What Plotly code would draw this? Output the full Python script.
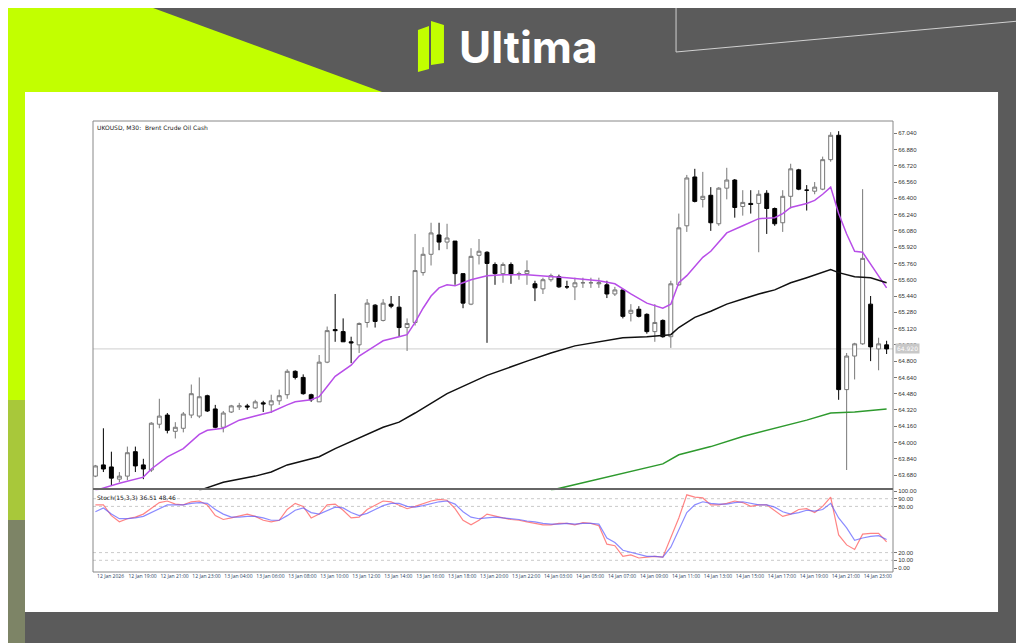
import plotly.graph_objects as go

# --- data (UKOUSD M30) ---
opens = [63.67,63.78,63.76,63.64,63.67,63.91,63.78,63.73,64.18,64.27,
         64.11,64.14,64.27,64.26,64.46,64.33,64.15,64.30,64.35,64.36,
         64.34,64.39,64.37,64.41,64.47,64.70,64.64,64.47,64.40,64.79,
         65.11,65.09,64.99,64.96,65.18,65.35,65.20,65.36,65.33,65.13,
         65.18,65.67,65.85,66.04,65.97,65.98,65.66,65.36,65.84,65.87,
         65.75,65.66,65.75,65.65,65.66,65.56,65.51,65.60,65.63,65.53,
         65.53,65.57,65.57,65.56,65.55,65.46,65.50,65.27,65.31,65.26,
         65.09,65.20,65.04,65.55,66.13,66.61,66.39,66.43,66.15,66.50,
         66.58,66.32,66.35,66.35,66.45,66.30,66.16,66.42,66.68,66.48,
         66.47,66.49,66.78,67.02,64.52,64.85,64.97,65.36,64.92,64.96]
highs = [63.78,64.14,63.91,63.71,63.96,63.96,63.84,64.20,64.43,64.29,
         64.20,64.30,64.57,64.64,64.47,64.37,64.31,64.37,64.39,64.38,
         64.42,64.41,64.47,64.52,64.72,64.71,64.67,64.48,64.86,65.14,
         65.46,65.22,65.04,65.18,65.41,65.36,65.41,65.44,65.44,65.22,
         66.05,65.92,66.16,66.16,66.15,65.98,65.66,65.91,66.00,65.88,
         65.77,65.77,65.77,65.68,65.79,65.59,65.62,65.66,65.65,65.59,
         65.62,65.62,65.62,65.62,65.59,65.53,65.50,65.36,65.34,65.27,
         65.36,65.21,65.59,66.25,66.63,66.69,66.66,66.51,66.51,66.70,
         66.59,66.48,66.48,66.48,66.48,66.31,66.48,66.74,66.69,66.53,
         66.56,66.81,67.05,67.06,64.88,64.98,66.49,65.44,65.03,65.00]
lows = [63.66,63.71,63.58,63.61,63.63,63.71,63.64,63.71,64.14,64.09,
        64.04,64.10,64.24,64.24,64.30,64.14,64.10,64.29,64.32,64.32,
        64.33,64.30,64.29,64.37,64.43,64.62,64.47,64.40,64.40,64.78,
        64.99,64.99,64.78,64.88,65.13,65.13,65.19,65.32,65.04,64.90,
        65.15,65.64,65.74,65.89,65.90,65.55,65.32,65.35,65.75,64.98,
        65.55,65.57,65.56,65.60,65.55,65.39,65.46,65.58,65.52,65.51,
        65.40,65.52,65.52,65.52,65.42,65.44,65.22,65.19,65.23,65.07,
        64.99,65.03,64.93,65.54,66.07,66.36,66.31,66.08,66.13,66.39,
        66.21,66.23,66.25,65.87,66.05,66.13,66.07,66.30,66.48,66.28,
        66.44,66.48,66.76,64.42,63.73,64.62,64.96,64.80,64.71,64.87]
closes = [63.77,63.74,63.65,63.67,63.90,63.77,63.74,64.19,64.26,64.12,
          64.15,64.28,64.48,64.45,64.31,64.15,64.29,64.36,64.36,64.35,
          64.40,64.38,64.41,64.46,64.70,64.64,64.48,64.42,64.79,65.10,
          65.10,64.99,64.98,65.17,65.37,65.19,65.37,65.34,65.13,65.17,
          65.69,65.85,66.06,65.97,66.01,65.66,65.37,65.83,65.88,65.76,
          65.66,65.75,65.65,65.66,65.69,65.52,65.60,65.64,65.53,65.53,
          65.57,65.57,65.57,65.57,65.46,65.50,65.24,65.30,65.24,65.09,
          65.18,65.04,65.56,66.11,66.60,66.37,66.42,66.16,66.50,66.58,
          66.31,66.36,66.34,66.44,66.30,66.15,66.42,66.69,66.49,66.48,
          66.51,66.78,67.02,64.52,64.85,64.97,65.81,64.94,64.97,64.92]

# moving averages read at selected bars
ma_fast_x = [0,3,6,7,9,11,13,14,16,18,20,22,24,25,27,28,29,30,32,33,35,36,38,39,40,
             41,42,43,44,45,46,47,49,51,54,56,59,63,65,67,69,71,72,
             73,74,75,76,77,79,81,83,85,86,87,89,90,91,92,93,94,95,96,97,98,99]
ma_fast_y = [63.53,63.60,63.66,63.74,63.86,63.94,64.08,64.12,64.14,64.22,64.26,64.30,64.37,64.40,64.42,64.45,64.55,64.65,64.76,64.85,64.95,65.00,65.04,65.06,65.18,
             65.32,65.44,65.52,65.55,65.54,65.57,65.60,65.64,65.65,65.65,65.64,65.62,65.59,65.56,65.46,65.37,65.32,65.36,
             65.57,65.64,65.73,65.82,65.88,66.06,66.13,66.20,66.21,66.25,66.31,66.35,66.38,66.44,66.51,66.25,66.05,65.88,65.87,65.75,65.64,65.52]
ma_mid_x = [13,16,20,22,24,26,28,30,32,34,36,38,40,44,49,54,57,60,63,66,69,71,
            72,73,75,77,79,81,83,85,87,89,91,92,93,95,97,99]
ma_mid_y = [63.53,63.61,63.67,63.71,63.78,63.82,63.86,63.94,64.01,64.08,64.15,64.20,64.29,64.48,64.66,64.80,64.88,64.95,64.99,65.03,65.04,65.05,
            65.06,65.13,65.23,65.29,65.36,65.41,65.46,65.50,65.57,65.62,65.67,65.70,65.67,65.63,65.62,65.57]
ma_slow_x = [57,63,67,70,71,73,77,81,85,89,92,95,99]
ma_slow_y = [63.53,63.64,63.71,63.77,63.79,63.88,63.96,64.06,64.14,64.22,64.29,64.30,64.33]

stoch_k = [82,82,68,60,64,66,70,78,85,87,83,82,86,87,82,68,63,65,68,70,
           67,62,60,62,76,84,80,65,70,82,83,75,65,66,76,82,87,86,82,77,
           80,84,87,89,88,77,62,56,62,70,67,65,63,62,60,58,56,56,58,58,
           56,59,58,55,31,29,15,17,13,14,15,14,39,65,95,92,91,82,82,84,
           87,85,80,82,82,75,67,70,76,77,72,80,92,43,30,24,44,45,45,34]
stoch_d = [73,78,70,64,64,65,67,72,78,82,82,82,84,85,84,76,70,66,66,67,
           67,65,62,62,68,75,78,72,70,75,79,78,72,68,71,76,81,84,84,80,
           79,81,84,86,87,83,73,66,64,65,66,65,64,63,61,60,58,57,57,58,
           57,58,58,57,39,33,23,20,17,15,15,14,27,50,72,82,86,84,83,83,
           85,86,84,82,82,79,73,70,72,75,74,76,84,65,52,36,39,41,42,37]

price_ticks = [67.04,66.88,66.72,66.56,66.40,66.24,66.08,65.92,65.76,65.60,65.44,
               65.28,65.12,64.96,64.80,64.64,64.48,64.32,64.16,64.00,63.84,63.68]
stoch_ticks = [0,10,20,80,90,100]
time_labels = ["12 Jan 2026","12 Jan 19:00","12 Jan 21:00","12 Jan 23:00","13 Jan 04:00",
               "13 Jan 06:00","13 Jan 08:00","13 Jan 10:00","13 Jan 12:00","13 Jan 14:00",
               "13 Jan 16:00","13 Jan 18:00","13 Jan 20:00","13 Jan 22:00","14 Jan 03:00",
               "14 Jan 05:00","14 Jan 07:00","14 Jan 09:00","14 Jan 11:00","14 Jan 13:00",
               "14 Jan 15:00","14 Jan 17:00","14 Jan 19:00","14 Jan 21:00","14 Jan 23:00"]

bars = list(range(len(closes)))
OFF = 8  # page body margin
W, H = 1024 - OFF, 643 - OFF
L, T = 93 - OFF, 121 - OFF
R, B = W - L - 800, H - T - 451


def px(x, y):
    # screen pixel -> paper coords
    return (x - OFF - L) / 800, (T + 451 - (y - OFF)) / 451


def poly(points):
    s = ""
    for i, (x, y) in enumerate(points):
        a, b = px(x, y)
        s += ("M" if i == 0 else "L") + f"{a:.4f},{b:.4f} "
    return s + "Z"


def bg(points, fill, line=None):
    return dict(type="path", xref="paper", yref="paper", path=poly(points),
                fillcolor=fill, line=line or dict(width=0), layer="below")


fig = go.Figure()
fig.add_trace(go.Candlestick(
    x=bars, open=opens, high=highs, low=lows, close=closes,
    increasing=dict(line=dict(color="#777777", width=1), fillcolor="white"),
    decreasing=dict(line=dict(color="#000000", width=1), fillcolor="black"),
    whiskerwidth=0, showlegend=False, xaxis="x", yaxis="y"))
fig.add_trace(go.Scatter(x=ma_fast_x, y=ma_fast_y, mode="lines",
                         line=dict(color="#b84ee8", width=1.5), showlegend=False))
fig.add_trace(go.Scatter(x=ma_mid_x, y=ma_mid_y, mode="lines",
                         line=dict(color="#111111", width=1.5), showlegend=False))
fig.add_trace(go.Scatter(x=ma_slow_x, y=ma_slow_y, mode="lines",
                         line=dict(color="#2e9a2e", width=1.5), showlegend=False))
fig.add_trace(go.Scatter(x=bars, y=stoch_k, mode="lines", xaxis="x2", yaxis="y2",
                         line=dict(color="rgba(255,80,80,0.7)", width=1.2), showlegend=False))
fig.add_trace(go.Scatter(x=bars, y=stoch_d, mode="lines", xaxis="x2", yaxis="y2",
                         line=dict(color="rgba(90,90,255,0.7)", width=1.2), showlegend=False))

shapes = [
    bg([(-10, -10), (104, -10), (382, 92), (-10, 92)], "#c2ff00"),
    bg([(-10, 92), (25, 92), (25, 400), (-10, 430)], "#c2ff00"),
    bg([(-10, 400), (25, 400), (25, 520), (-10, 520)], "#a8c83a"),
    bg([(-10, 520), (25, 520), (25, 650), (-10, 650)], "#7d8466"),
    bg([(25, 92), (998, 92), (998, 612), (25, 612)], "white"),
    bg([(676, -10), (676, 52), (1030, 20), (1030, -10)], "rgba(0,0,0,0)",
       dict(color="#d0d0d0", width=1)),
    # logo mark
    bg([(418, 30), (429, 26), (429, 69), (418, 72)], "#c2ff00"),
    bg([(431, 21), (444, 25), (444, 63), (431, 65)], "#c2ff00"),
]
# frames
shapes.append(dict(type="rect", xref="paper", yref="paper", x0=0, x1=1, y0=0, y1=1,
                   line=dict(color="#888888", width=1)))
shapes.append(dict(type="line", xref="paper", yref="paper", x0=0, x1=1,
                   y0=px(0, 489)[1], y1=px(0, 489)[1], line=dict(color="#666666", width=2)))
# current price line
shapes.append(dict(type="line", xref="paper", yref="y", x0=0, x1=1, y0=closes[-1], y1=closes[-1],
                   line=dict(color="#cfcfcf", width=1), layer="below"))
for lv in [10, 20, 80, 90]:
    shapes.append(dict(type="line", xref="paper", yref="y2", x0=0, x1=1, y0=lv, y1=lv,
                       line=dict(color="#bbbbbb", width=0.8, dash="dot"), layer="below"))

ax = dict(showgrid=False, zeroline=False,
          tickfont=dict(family="Liberation Sans Narrow, Liberation Sans", size=6, color="#333"))
fig.update_layout(
    width=W, height=H, margin=dict(l=L, r=R, t=T, b=B),
    paper_bgcolor="#5b5b5b", plot_bgcolor="rgba(0,0,0,0)",
    shapes=shapes,
    xaxis=dict(ax, domain=[0, 1], anchor="y", range=[-0.3, 99.8], showticklabels=False,
               rangeslider=dict(visible=False), matches="x2"),
    xaxis2=dict(ax, domain=[0, 1], anchor="y2", range=[-0.3, 99.8],
                tickvals=[v + 1.9 for v in bars[::4][:len(time_labels)]], ticktext=time_labels,
                ticks="", tickangle=0, tickfont=dict(size=5)),
    yaxis=dict(ax, domain=[px(0, 489)[1] - 0.003, 1], side="right", range=[63.53, 67.16],
               tickvals=price_ticks, ticktext=[f"{v:.3f}" for v in price_ticks],
               ticks="outside", ticklen=3, tickcolor="#777", anchor="x"),
    yaxis2=dict(ax, domain=[0, px(0, 490)[1]], side="right", range=[-5.2, 101.3],
                tickvals=stoch_ticks, ticktext=[f"{v:.2f}" for v in stoch_ticks],
                ticks="outside", ticklen=3, tickcolor="#777", anchor="x2"),
    annotations=[
        dict(text="Ultima", x=px(457, 47)[0], y=px(457, 47)[1], xref="paper", yref="paper",
             xanchor="left", yanchor="middle", showarrow=False,
             font=dict(family="Inter", size=44, color="white", weight="bold")),
        dict(text="UKOUSD, M30:  Brent Crude Oil Cash", x=0.003, y=0.998, xref="paper", yref="paper",
             xanchor="left", yanchor="top", showarrow=False,
             font=dict(family="DejaVu Sans", size=6, color="#222")),
        dict(text="Stoch(15,3,3) 36.51 48.46", x=0.003, y=0.178, xref="paper", yref="paper",
             xanchor="left", yanchor="top", showarrow=False,
             font=dict(family="DejaVu Sans", size=6, color="#222")),
        dict(text=f"{closes[-1]:.3f}", x=1.003, y=closes[-1], xref="paper", yref="y",
             xanchor="left", showarrow=False, bgcolor="#c8c8c8",
             font=dict(family="DejaVu Sans", size=6, color="white")),
    ],
)

fig.write_html("out.html")
